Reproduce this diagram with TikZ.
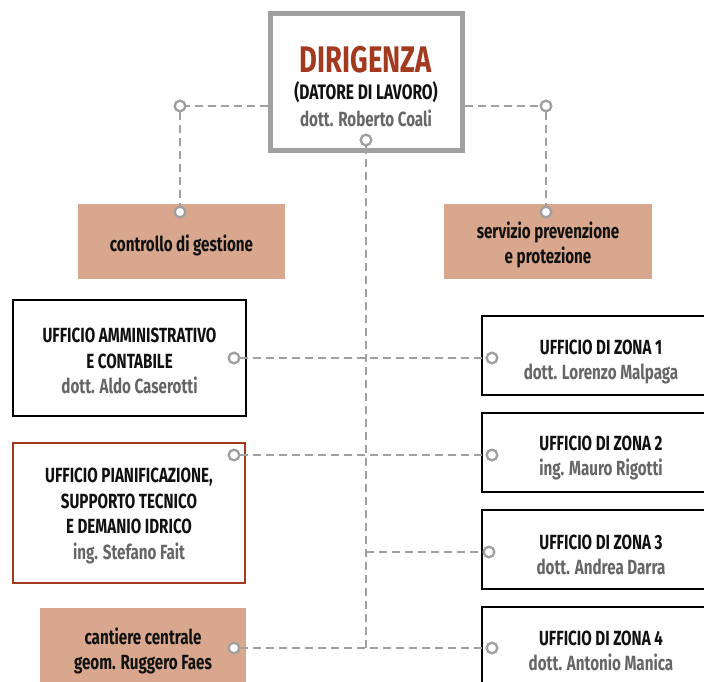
\documentclass[tikz,border=0pt]{standalone}
\usepackage{fontspec}
\setmainfont[FakeStretch=0.74]{Fira Sans}
\definecolor{lgray}{HTML}{A0A0A0}
\definecolor{salmon}{HTML}{D8A78D}
\definecolor{rust}{HTML}{A33A1F}
\definecolor{tgray}{HTML}{666666}
\definecolor{tblack}{HTML}{111111}
\tikzset{
  bodyfont/.style={font=\fontsize{20.5}{25.5}\selectfont\bfseries, text=tblack, align=center},
  boxbase/.style={rectangle, inner sep=0pt, bodyfont},
  filledbox/.style={boxbase, fill=salmon, draw=none},
  blackbox/.style={boxbase, draw=black, line width=2pt, fill=white},
  rustbox/.style={boxbase, draw=rust, line width=2pt, fill=white},
  conn/.style={draw=lgray, line width=2.4pt, dash pattern=on 8pt off 5pt},
  dot/.style={circle, draw=lgray, fill=white, line width=2.2pt, minimum size=10.5pt, inner sep=0pt},
}
\newcommand{\who}[1]{{\color{tgray}#1}}
\begin{document}
\begin{tikzpicture}[x=1pt,y=-1pt]
\useasboundingbox (0,0) rectangle (704,682);
% top box
\node[boxbase, draw=lgray, line width=5pt, fill=white, minimum width=192pt, minimum height=137pt] (top) at (366,82.5) {};
\node[font=\fontsize{37}{40}\selectfont\bfseries, text=rust] (t1) at (366,60) {DIRIGENZA};
\node[font=\fontsize{21}{24}\selectfont\bfseries, text=tblack] (t2) at (366,92) {(DATORE DI LAVORO)};
\node[bodyfont, text=tgray] (t3) at (366,118) {dott. Roberto Coali};
% staff boxes
\node[filledbox, minimum width=207pt, minimum height=75pt] (ctrl) at (181.5,241.5) {};
\node[bodyfont] (ctrlt) at (181.5,245) {controllo di gestione};
\node[filledbox, minimum width=208pt, minimum height=75pt] (serv) at (548,241.5) {};
\node[bodyfont] (servt) at (548,245) {servizio prevenzione\\e protezione};
% left boxes
\node[blackbox, minimum width=233pt, minimum height=116pt] (amm) at (129.5,358) {};
\node[bodyfont] (ammt) at (129.5,361) {UFFICIO AMMINISTRATIVO\\E CONTABILE\\\who{dott. Aldo Caserotti}};
\node[rustbox, minimum width=232pt, minimum height=140pt] (pian) at (129,513) {};
\node[bodyfont] (piant) at (129,516) {UFFICIO PIANIFICAZIONE,\\SUPPORTO TECNICO\\E DEMANIO IDRICO\\\who{ing. Stefano Fait}};
\node[filledbox, minimum width=206pt, minimum height=80pt] (cant) at (143,648) {};
\node[bodyfont] (cantt) at (143,651) {cantiere centrale\\geom. Ruggero Faes};
% right boxes
\node[blackbox, minimum width=238pt, minimum height=79pt] (z1) at (601,355.5) {};
\node[bodyfont] (z1t) at (601,362) {UFFICIO DI ZONA 1\\\who{dott. Lorenzo Malpaga}};
\node[blackbox, minimum width=238pt, minimum height=79pt] (z2) at (601,452.5) {};
\node[bodyfont] (z2t) at (601,458) {UFFICIO DI ZONA 2\\\who{ing. Mauro Rigotti}};
\node[blackbox, minimum width=238pt, minimum height=79pt] (z3) at (601,549.5) {};
\node[bodyfont] (z3t) at (601,555) {UFFICIO DI ZONA 3\\\who{dott. Andrea Darra}};
\node[blackbox, minimum width=238pt, minimum height=82pt] (z4) at (601,648) {};
\node[bodyfont] (z4t) at (601,651) {UFFICIO DI ZONA 4\\\who{dott. Antonio Manica}};
% connection points
\node[dot] (ctop) at (366,140) {};
\node[dot] (cl) at (180,106) {};
\node[dot] (cr) at (546,106) {};
\node[dot] (cctrl) at (180,212) {};
\node[dot] (cserv) at (546,212) {};
\node[dot] (camm) at (234,358) {};
\node[dot] (cz1) at (492,358) {};
\node[dot] (cpian) at (234,455) {};
\node[dot] (cz2) at (492,455) {};
\node[dot] (cz3) at (489,552) {};
\node[dot] (ccant) at (234,648) {};
\node[dot] (cz4) at (492,648) {};
\coordinate (j3) at (366,552);
\coordinate (j4) at (366,648);
% connectors
\path[conn] (top.west |- cl) -- (cl.east);
\path[conn] (cl.south) -- (cctrl.north);
\path[conn] (top.east |- cr) -- (cr.west);
\path[conn] (cr.south) -- (cserv.north);
\path[conn] (ctop.south) -- (j4);
\path[conn] (j3) -- (cz3.west);
\path[conn] (camm.east) -- (cz1.west);
\path[conn] (cpian.east) -- (cz2.west);
\path[conn] (ccant.east) -- (cz4.west);
% dots on top
\foreach \n in {ctop,cl,cr,cctrl,cserv,camm,cz1,cpian,cz2,cz3,ccant,cz4}
  \node[dot] at (\n) {};
\end{tikzpicture}
\end{document}
